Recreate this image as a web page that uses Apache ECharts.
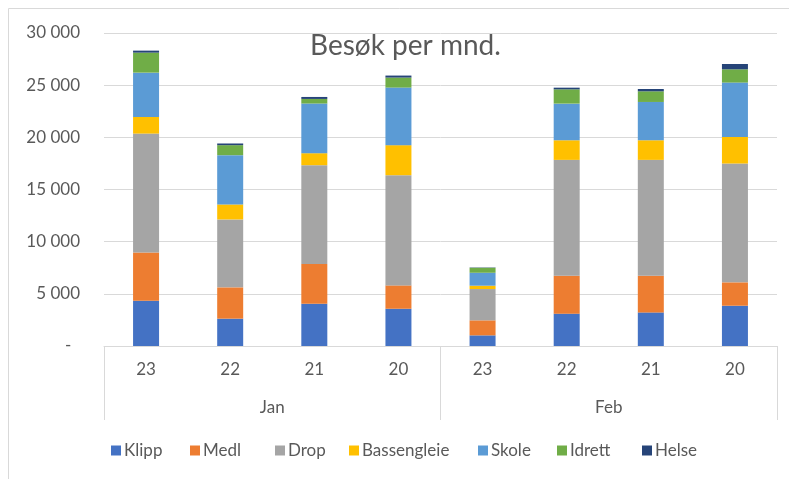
<!DOCTYPE html>
<html>
<head>
<meta charset="utf-8">
<script src="https://cdn.jsdelivr.net/npm/echarts@6/dist/echarts.min.js"></script>
<style>
html,body{margin:0;padding:0;background:#fff;}
#c{width:789px;height:479px;}
</style>
</head>
<body>
<div id="c"></div>
<script>
const days = ['23','22','21','20','23','22','21','20'];
const months = ['Jan','Feb'];
const klipp = [4340, 2620, 4050, 3570, 1020, 3100, 3220, 3860];
const medl = [4630, 3000, 3800, 2240, 1440, 3630, 3510, 2240];
const drop = [11390, 6510, 9480, 10560, 3000, 11110, 11110, 11390];
const bassengleie = [1600, 1440, 1150, 2880, 320, 1880, 1880, 2550];
const skole = [4240, 4720, 4760, 5520, 1240, 3510, 3670, 5210];
const idrett = [1920, 960, 440, 960, 480, 1370, 1020, 1270];
const helse = [190, 160, 190, 190, 30, 160, 220, 510];
const yTicks = [0, 5000, 10000, 15000, 20000, 25000, 30000];

const seriesDefs = [
  ['Klipp', klipp, '#4472C4'],
  ['Medl', medl, '#ED7D31'],
  ['Drop', drop, '#A5A5A5'],
  ['Bassengleie', bassengleie, '#FFC000'],
  ['Skole', skole, '#5B9BD5'],
  ['Idrett', idrett, '#70AD47'],
  ['Helse', helse, '#264478']
];
const legendLeft = [111, 190, 275, 349, 478, 557, 642];

const font = 'Lato, "Open Sans", sans-serif';
const txt = '#595959';
const chart = echarts.init(document.getElementById('c'));
chart.setOption({
  animation: false,
  title: {
    text: 'Besøk per mnd.',
    left: 305, top: 27,
    textStyle: {fontFamily: font, fontSize: 28, fontWeight: 'normal', color: txt}
  },
  graphic: [{
    type: 'rect', shape: {x: 8.5, y: 8.5, width: 900, height: 600},
    style: {fill: 'none', stroke: '#d9d9d9', lineWidth: 1}, z: -1
  }],
  grid: {left: 104, right: 12, top: 33, bottom: 133, containLabel: false},
  legend: seriesDefs.map((s, i) => ({
    left: legendLeft[i], top: 442, padding: 0,
    itemWidth: 10, itemHeight: 10,
    icon: 'rect',
    textStyle: {fontFamily: font, fontSize: 17, color: txt, padding: [0,0,0,-2]},
    data: [s[0]]
  })),
  xAxis: [{
    type: 'category', data: days, position: 'bottom',
    axisLine: {show: true, lineStyle: {color: '#d9d9d9'}},
    axisTick: {show: false},
    axisLabel: {fontFamily: font, fontSize: 17, color: txt, margin: 15}
  }, {
    type: 'category', data: months, position: 'bottom',
    axisLine: {show: false},
    axisTick: {show: true, length: 74, inside: false, lineStyle: {color: '#d9d9d9'}},
    axisLabel: {fontFamily: font, fontSize: 17, color: txt, margin: 53}
  }],
  yAxis: {
    type: 'value', min: 0, max: 30000, interval: 5000,
    axisLine: {show: false}, axisTick: {show: false},
    splitLine: {lineStyle: {color: '#d9d9d9'}},
    axisLabel: {
      fontFamily: font, fontSize: 17, color: txt, margin: 24,
      formatter: v => v === 0 ? '-  ' : String(v).replace(/\B(?=(\d{3})+(?!\d))/g, ' ')
    }
  },
  series: seriesDefs.map(s => ({
    name: s[0], type: 'bar', stack: 'total', data: s[1], barWidth: 26,
    xAxisIndex: 0,
    itemStyle: {color: s[2]}
  }))
});
</script>
</body>
</html>
